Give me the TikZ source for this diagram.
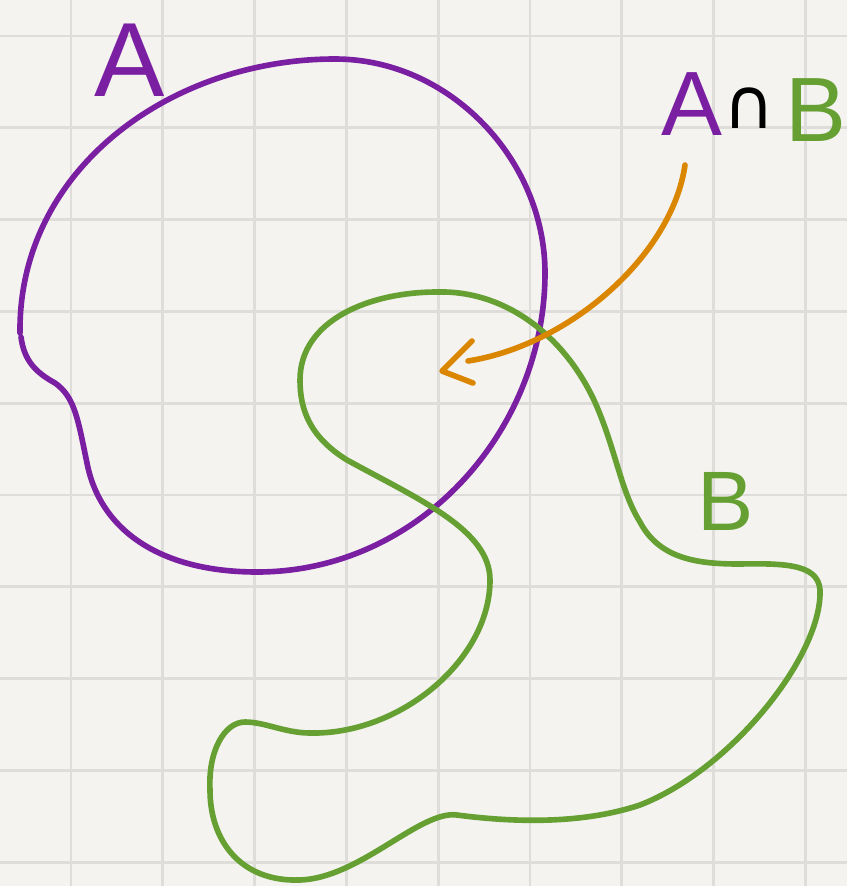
\documentclass[tikz,border=0pt]{standalone}
\usepackage{fontspec}
\setmainfont{Liberation Sans}
\newfontfamily\symbfont{DejaVu Sans}
\definecolor{setA}{RGB}{122,31,162}
\definecolor{setB}{RGB}{102,160,50}
\definecolor{pointer}{RGB}{218,134,0}
\definecolor{paper}{RGB}{244,243,240}
\definecolor{gridgray}{RGB}{222,221,218}

\begin{document}
\begin{tikzpicture}[
    x=0.03cm, y=-0.03cm,
    gridline/.style={draw=gridgray, line width=2.4pt},
    pen/.style={line width=4.8pt, line cap=round, line join=round},
    letter/.style={inner sep=0pt, font=\fontsize{#1}{#1}\selectfont}
]

% Set bounding box to the size of the sheet
\useasboundingbox (0,0) rectangle (847,886);

% ================= PAPER =================
\fill[paper] (0,0) rectangle (847,886);
\foreach \k in {0,...,8}
    \draw[gridline] (71+91.8*\k,0) -- (71+91.8*\k,886);
\foreach \k in {0,...,9}
    \draw[gridline] (0,36+91.8*\k) -- (847,36+91.8*\k);

% ================= SET A =================
\draw[pen, setA]
    (21,337) .. controls (24,360) and (35,372) .. (55,383)
    .. controls (75,397) and (78,420) .. (87,463)
    .. controls (100,530) and (160,572) .. (257,572)
    .. controls (420,572) and (545,430) .. (545,273)
    .. controls (545,160) and (450,59) .. (335,59)
    .. controls (170,59) and (18,170) .. (20,333);

% ================= SET B =================
\draw[pen, setB]
    (437,292) .. controls (500,290) and (560,330) .. (593,398)
    .. controls (615,445) and (620,490) .. (640,522)
    .. controls (660,560) and (700,564) .. (740,564)
    .. controls (790,563) and (822,565) .. (820,595)
    .. controls (818,660) and (730,770) .. (640,805)
    .. controls (580,825) and (510,822) .. (457,815)
    .. controls (420,810) and (360,878) .. (300,880)
    .. controls (240,882) and (210,840) .. (210,790)
    .. controls (208,750) and (225,722) .. (245,722)
    .. controls (265,722) and (285,733) .. (310,733)
    .. controls (400,735) and (490,660) .. (490,580)
    .. controls (490,530) and (420,500) .. (347,460)
    .. controls (310,437) and (300,410) .. (300,380)
    .. controls (300,320) and (370,292) .. (437,292) -- cycle;

% ================= LABELS =================
\node[letter=90, text=setA] (labelA) at (130,60) {A};
\node[letter=72, text=setB] (labelB) at (726,501) {B};

\node[letter=78, text=setA] (abA) at (692,104) {A};
\node[letter=60] (abCap) at (749,108) {\symbfont ∩};
\node[letter=78, text=setB] (abB) at (816,110) {B};

% ================= POINTER =================
\coordinate (from) at (685,165);
\coordinate (hook) at (468,361);
\coordinate (tip) at (442,371);
\draw[pen, pointer] (from) .. controls (672,255) and (570,345) .. (hook);
\draw[pen, pointer] (472,341) -- (tip) -- (473,383);

\end{tikzpicture}
\end{document}
